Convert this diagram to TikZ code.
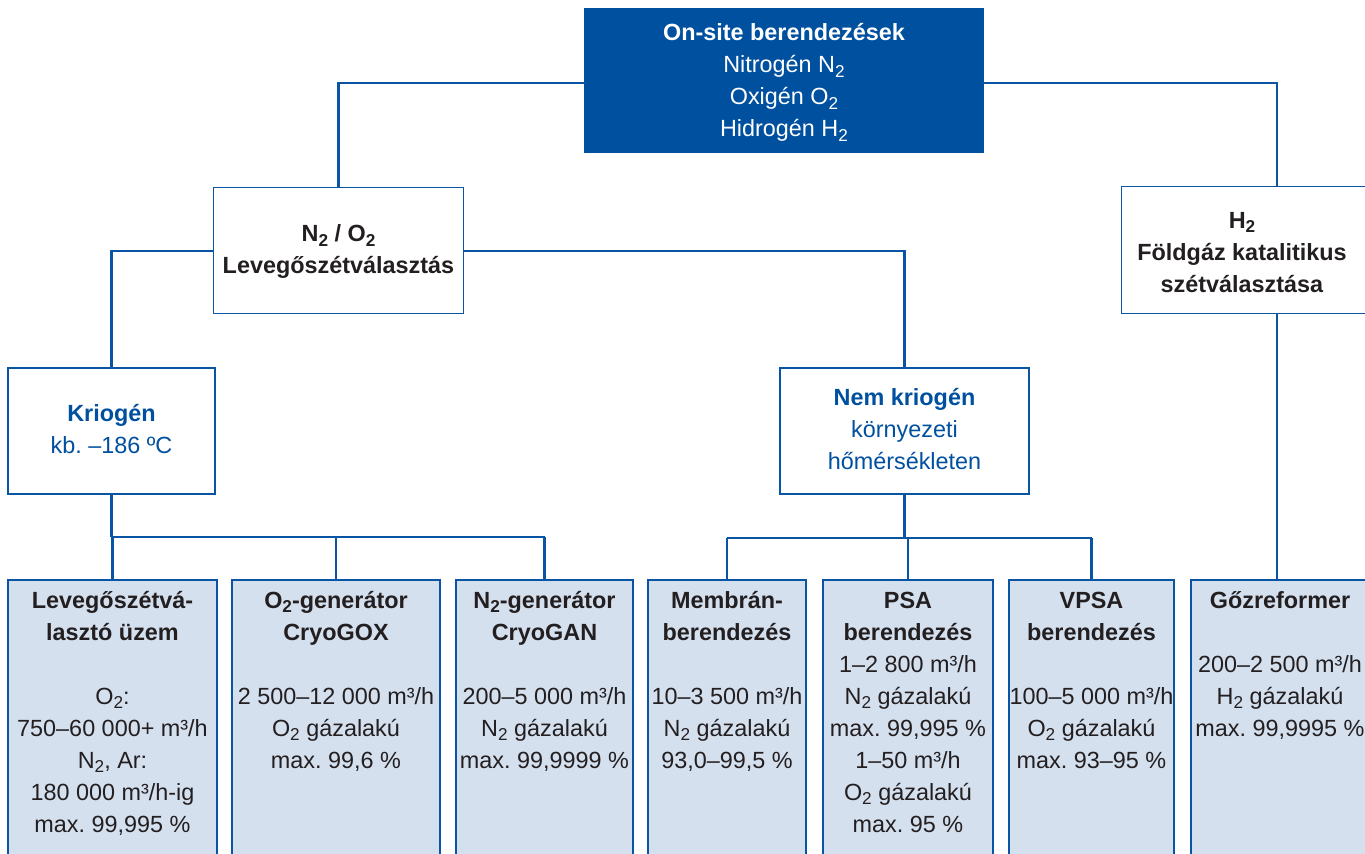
\documentclass[tikz,border=0pt]{standalone}
\usepackage{fontspec}
\setmainfont{Liberation Sans}
\frenchspacing
\definecolor{lineblue}{HTML}{0A55A3}
\definecolor{darkblue}{HTML}{0050A0}
\definecolor{lightblue}{HTML}{D5E0EF}
\definecolor{textgray}{HTML}{231F20}
\newcommand{\lo}[1]{\raisebox{-2.2pt}{\fontsize{8.6}{10}\selectfont #1}}
\tikzset{
  conn/.style={draw=lineblue, line width=1.2pt},
  wbox/.style={draw=lineblue, line width=0.7pt, fill=white, rectangle, inner sep=0pt},
  lbox/.style={draw=lineblue, line width=0.7pt, fill=lightblue, rectangle, inner sep=0pt},
  tbox/.style={fill=darkblue, rectangle, inner sep=0pt},
  txt/.style={align=center, inner sep=0pt, text=textgray, font=\fontsize{11.7}{16}\selectfont\frenchspacing},
  btxt/.style={txt, text=darkblue},
  wtxt/.style={txt, text=white},
}
\begin{document}
\begin{tikzpicture}[x=0.5pt,y=-0.5pt]
\useasboundingbox (0,0) rectangle (1365,854);
\clip (0,0) rectangle (1365,854);
% coordinates for bus lines
\coordinate (topbus) at (784,83);
\coordinate (nbus) at (0,251);
\coordinate (kbus) at (0,537);
\coordinate (mbus) at (0,538);
\coordinate (hx) at (1277,0);
% boxes
\path
  node[tbox, minimum width=200pt, minimum height=72.5pt] (top) at (784,80.5) {}
  node[wbox, minimum width=124.5pt, minimum height=62.5pt] (n2o2) at (338.5,250.5) {}
  node[wbox, minimum width=126.5pt, minimum height=63pt] (h2) at (1248.5,250) {}
  node[wbox, minimum width=103.5pt, minimum height=63pt] (kri) at (111.5,431) {}
  node[wbox, minimum width=124.5pt, minimum height=63pt] (nem) at (904.5,431) {}
  node[lbox, minimum width=104.5pt, minimum height=145pt] (b1) at (112.5,725) {}
  node[lbox, minimum width=104pt, minimum height=145pt] (b2) at (336,725) {}
  node[lbox, minimum width=88.5pt, minimum height=145pt] (b3) at (544.5,725) {}
  node[lbox, minimum width=79pt, minimum height=145pt] (b4) at (727,725) {}
  node[lbox, minimum width=85pt, minimum height=145pt] (b5) at (908,725) {}
  node[lbox, minimum width=82.5pt, minimum height=145pt] (b6) at (1091.5,725) {}
  node[lbox, minimum width=92pt, minimum height=145pt] (b7) at (1283,725) {};
% connectors
\draw[conn] (n2o2.north) -- (n2o2.north |- topbus) -- (hx |- topbus) -- (hx |- h2.north);
\draw[conn] (kri.north) -- (kri.north |- nbus) -- (nem.north |- nbus) -- (nem.north);
\draw[conn] (hx |- h2.south) -- (hx |- b7.north);
\draw[conn] (kri.south) -- (kri.south |- kbus);
\draw[conn] (b1.north |- kbus) -- (b3.north |- kbus);
\draw[conn] (b1.north |- kbus) -- (b1.north);
\draw[conn] (b2.north |- kbus) -- (b2.north);
\draw[conn] (b3.north |- kbus) -- (b3.north);
\draw[conn] (nem.south) -- (nem.south |- mbus);
\draw[conn] (b4.north |- mbus) -- (b6.north |- mbus);
\draw[conn] (b4.north |- mbus) -- (b4.north);
\draw[conn] (b5.north |- mbus) -- (b5.north);
\draw[conn] (b6.north |- mbus) -- (b6.north);
% redraw boxes crossed by connectors
\fill[darkblue] (top.north west) rectangle (top.south east);
\filldraw[fill=white, draw=lineblue, line width=0.7pt] (n2o2.north west) rectangle (n2o2.south east);
\filldraw[fill=white, draw=lineblue, line width=0.7pt] (h2.north west) rectangle (h2.south east);
% texts
\node[wtxt] (ttop) at (784,82.5) {\strut\textbf{On-site berendezések}\\ Nitrogén N\lo{2}\\ Oxigén O\lo{2}\\ Hidrogén H\lo{2}\strut};
\node[txt] (tn2o2) at (338.5,251.5) {\strut\textbf{N\lo{2} / O\lo{2}}\\ \textbf{Levegőszétválasztás}\strut};
\node[txt] (th2) at (1242,254) {\strut\textbf{H\lo{2}}\\ \textbf{Földgáz katalitikus}\\ \textbf{szétválasztása}\strut};
\node[btxt] (tkri) at (111.5,431) {\strut\textbf{Kriogén}\\ kb. –186 ºC\strut};
\node[btxt] (tnem) at (904.5,431) {\strut\textbf{Nem kriogén}\\ környezeti\\ hőmérsékleten\strut};
\node[txt, anchor=north] (t1) at (112.5,585.6) {\strut\textbf{Levegőszétvá-}\\ \textbf{lasztó üzem}\\ \strut\\ O\lo{2}:\\ 750–60 000+ m³/h\\ N\lo{2}, Ar:\\ 180 000 m³/h-ig\\ max. 99,995 \%};
\node[txt, anchor=north] (t2) at (336,585.6) {\strut\textbf{O\lo{2}-generátor}\\ \textbf{CryoGOX}\\ \strut\\ 2 500–12 000 m³/h\\ O\lo{2} gázalakú\\ max. 99,6 \%};
\node[txt, anchor=north] (t3) at (544.5,585.6) {\strut\textbf{N\lo{2}-generátor}\\ \textbf{CryoGAN}\\ \strut\\ 200–5 000 m³/h\\ N\lo{2} gázalakú\\ max. 99,9999 \%};
\node[txt, anchor=north] (t4) at (727,585.6) {\strut\textbf{Membrán-}\\ \textbf{berendezés}\\ \strut\\ 10–3 500 m³/h\\ N\lo{2} gázalakú\\ 93,0–99,5 \%};
\node[txt, anchor=north] (t5) at (908,585.6) {\strut\textbf{PSA}\\ \textbf{berendezés}\\ 1–2 800 m³/h\\ N\lo{2} gázalakú\\ max. 99,995 \%\\ 1–50 m³/h\\ O\lo{2} gázalakú\\ max. 95 \%};
\node[txt, anchor=north] (t6) at (1091.5,585.6) {\strut\textbf{VPSA}\\ \textbf{berendezés}\\ \strut\\ 100–5 000 m³/h\\ O\lo{2} gázalakú\\ max. 93–95 \%};
\node[txt, anchor=north] (t7) at (1280,585.6) {\strut\textbf{Gőzreformer}\\ \strut\\ 200–2 500 m³/h\\ H\lo{2} gázalakú\\ max. 99,9995 \%};
\end{tikzpicture}
\end{document}
